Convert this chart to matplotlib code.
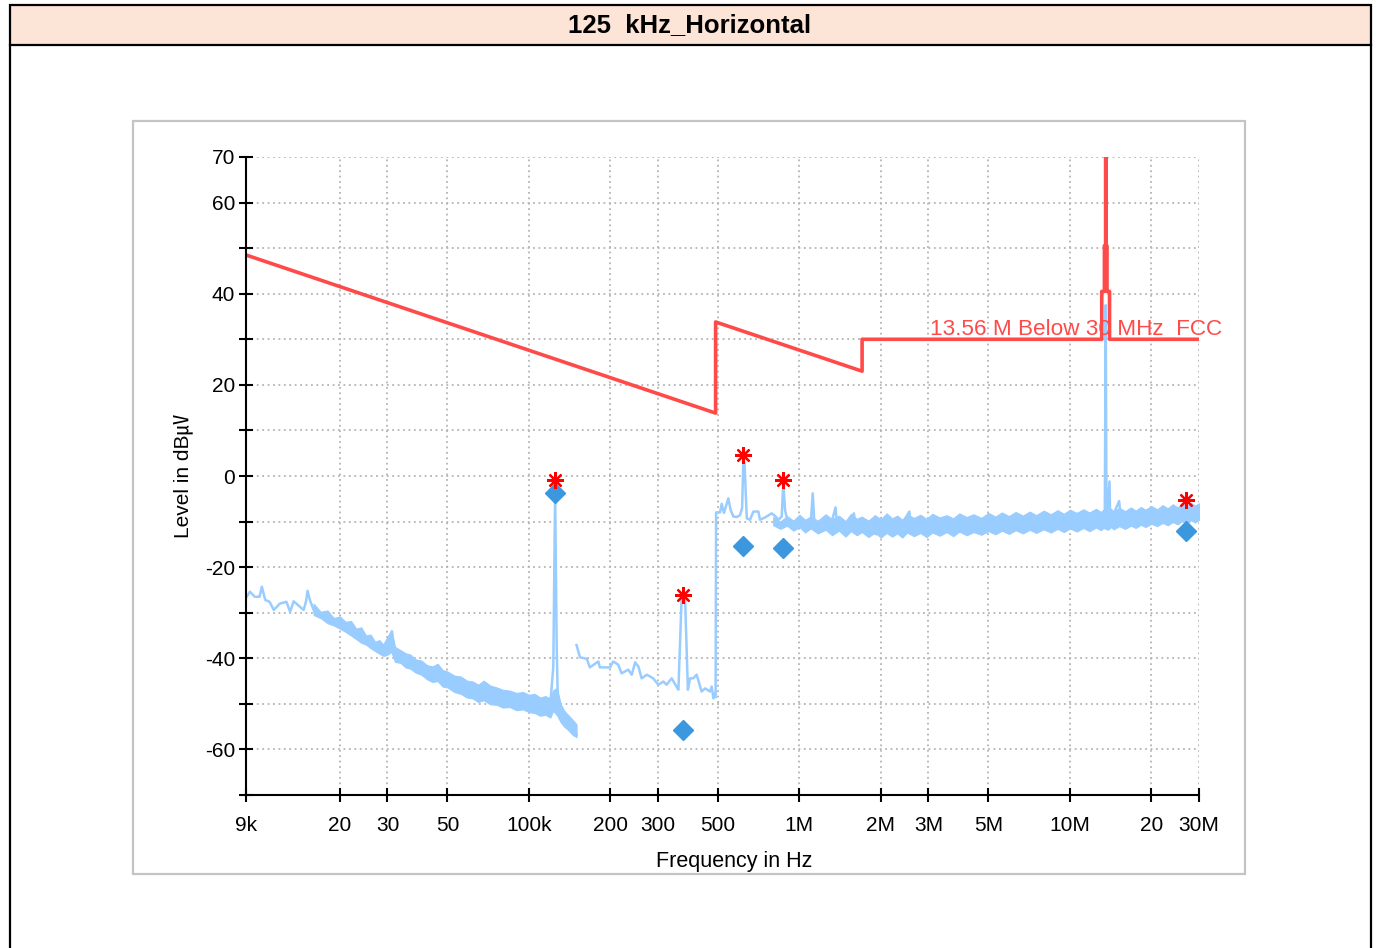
import matplotlib
matplotlib.use('Agg')
import matplotlib.pyplot as plt
from matplotlib.patches import Rectangle
from matplotlib.lines import Line2D
from matplotlib.transforms import Bbox, TransformedBbox

plt.rcParams['font.family'] = ['Liberation Sans', 'Noto Sans CJK KR', 'DejaVu Sans']

# ---------------- data ----------------
title = "125  kHz_Horizontal"
limit_name = "13.56 M Below 30 MHz_FCC"
y_label = "Level in dB㎶"
x_label = "Frequency in Hz"

x_tick_vals = [9e3, 20e3, 30e3, 50e3, 100e3, 200e3, 300e3, 500e3, 1e6, 2e6, 3e6, 5e6, 10e6, 20e6, 30e6]
x_tick_labels = ['9k', '20', '30', '50', '100k', '200', '300', '500', '1M', '2M', '3M', '5M', '10M', '20', '30M']
y_tick_vals = [-70, -60, -50, -40, -30, -20, -10, 0, 10, 20, 30, 40, 50, 60, 70]
y_tick_labels = ['', '-60', '', '-40', '', '-20', '', '0', '', '20', '', '40', '', '60', '70']

# limit line (FCC 15.209 / 15.225)
limit_f = [9e3, 490e3, 490e3, 1.705e6, 1.705e6, 13.11e6, 13.11e6, 13.41e6, 13.41e6, 13.553e6, 13.553e6,
           13.567e6, 13.567e6, 13.71e6, 13.71e6, 14.01e6, 14.01e6, 30e6]
limit_v = [48.5, 13.8, 33.8, 23.0, 30.0, 30.0, 40.5, 40.5, 50.5, 50.5, 84.0,
           84.0, 50.5, 50.5, 40.5, 40.5, 30.0, 30.0]

# measured trace, band 1 (9 kHz - 150 kHz)
seg1_f = [9.05e3, 9.31e3, 9.7e3, 10.1e3, 10.3e3, 10.6e3, 11.0e3, 11.4e3, 12.0e3, 12.7e3, 13.1e3, 13.5e3,
          14.0e3, 14.7e3, 15.0e3, 15.2e3, 15.5e3, 16.1e3, 17.0e3, 18.0e3, 19.9e3, 21.0e3, 22.6e3, 24.6e3,
          26.5e3, 28.8e3, 31.2e3, 31.8e3, 34.2e3, 37.3e3, 40.8e3, 43.7e3, 47.0e3, 49.8e3, 54.4e3, 59.3e3,
          64.6e3, 70.5e3, 76.9e3, 83.8e3, 93.9e3, 101e3, 110e3, 119.7e3, 123.1e3, 125e3, 126.7e3, 128e3,
          131e3, 139e3, 150e3]
seg1_v = [-26.5, -25.4, -26.5, -26.5, -24.3, -27.2, -27.6, -29.4, -28.0, -27.6, -29.8, -27.5,
          -28.3, -29.4, -27.5, -25.2, -27.2, -29.8, -30.9, -30.5, -32.0, -33.0, -34.1, -35.6,
          -37.1, -37.8, -34.1, -38.9, -40.4, -41.5, -42.5, -44.0, -42.5, -44.7, -45.8, -46.6,
          -47.7, -46.9, -48.4, -48.8, -49.5, -49.9, -50.2, -50.9, -41.8, -3.5, -37.4, -49.8,
          -52.8, -54.2, -56.8]
# noise envelope of band 1
band1_f = [16e3, 17e3, 18e3, 19e3, 20e3, 21e3, 22e3, 23e3, 24e3, 25e3, 26e3, 27e3, 28e3, 29e3, 30e3,
           31e3, 32e3, 33.5e3, 35e3, 36.5e3, 38e3, 40e3, 42e3, 44e3, 46e3, 48e3, 50e3, 53e3, 56e3, 59e3,
           62e3, 65e3, 68e3, 72e3, 76e3, 80e3, 85e3, 90e3, 95e3, 100e3, 105e3, 110e3, 115e3, 120e3,
           123e3, 127e3, 131e3, 135e3, 140e3, 145e3, 150e3]
band1_hi = [-28.0, -29.8, -29.5, -31.2, -30.8, -32.0, -31.8, -33.5, -33.2, -35.0, -34.8, -36.4, -36.0,
            -37.0, -35.5, -33.8, -37.5, -38.2, -38.9, -39.2, -40.2, -40.5, -41.5, -41.8, -41.2, -42.6,
            -42.9, -43.8, -44.0, -44.9, -45.1, -45.8, -44.9, -46.0, -46.4, -46.9, -47.1, -47.6, -47.4,
            -48.0, -47.8, -48.6, -48.3, -48.8, -47.0, -46.5, -50.0, -51.5, -52.5, -53.5, -54.5]
band1_lo = [-30.5, -31.2, -32.3, -32.8, -33.5, -34.2, -35.0, -35.8, -36.6, -37.0, -37.8, -38.4, -39.0,
            -39.5, -39.2, -38.6, -40.8, -41.0, -42.0, -42.3, -43.1, -43.6, -44.6, -45.2, -45.0, -46.2,
            -46.4, -47.4, -47.8, -48.6, -48.8, -49.6, -49.2, -50.1, -50.2, -50.8, -50.7, -51.4, -51.2,
            -51.8, -52.0, -52.6, -52.4, -53.0, -51.5, -52.5, -54.0, -55.0, -55.8, -56.8, -57.3]

# measured trace, band 2 (150 kHz - 490 kHz)
seg2_f = [150e3, 154.5e3, 163.6e3, 168e3, 180.6e3, 183e3, 199.5e3, 205e3, 214e3, 220e3, 233e3, 240e3,
          247e3, 254e3, 261e3, 273e3, 288e3, 301e3, 314e3, 323e3, 337e3, 357e3, 367e3, 372e3, 378e3,
          387e3, 394e3, 405e3, 417e3, 435e3, 448e3, 467e3, 474e3, 481e3, 488e3]
seg2_v = [-37.1, -39.8, -40.1, -42.0, -40.7, -42.0, -42.0, -40.7, -41.4, -43.3, -42.5, -43.6,
          -40.9, -41.8, -44.4, -43.6, -44.4, -45.8, -45.1, -45.8, -44.4, -46.9, -26.5, -25.7, -27.2,
          -46.9, -44.4, -44.4, -43.6, -47.3, -46.6, -47.3, -46.2, -48.8, -47.7]

# measured trace, band 3 (490 kHz - 30 MHz)
seg3_f = [490e3, 492e3, 509e3, 516e3, 526e3, 546e3, 557e3, 570e3, 587e3, 603e3, 614e3, 621e3, 627e3,
          639e3, 657e3, 676e3, 705e3, 715e3, 746e3, 790e3, 813e3, 836e3, 860e3, 872e3, 885e3, 902e3,
          937e3, 977e3, 1.02e6, 1.065e6, 1.10e6, 1.12e6, 1.136e6, 1.19e6, 1.24e6, 1.29e6, 1.36e6, 1.38e6,
          1.47e6, 1.54e6, 1.59e6, 1.62e6, 1.76e6, 1.92e6, 2.1e6, 2.29e6, 2.55e6, 2.59e6, 2.92e6, 3.29e6,
          3.7e6, 4.16e6, 4.86e6, 5.52e6, 6.2e6, 7.0e6, 7.9e6, 9.0e6, 10.1e6, 11.4e6, 12.9e6, 13.45e6,
          13.56e6, 13.65e6, 14.0e6, 14.1e6, 15.2e6, 15.5e6, 17.4e6, 19.8e6, 22.2e6, 25.2e6, 27.3e6, 30e6]
seg3_v = [-48.5, -8.0, -8.0, -6.1, -8.1, -4.9, -7.5, -8.9, -9.0, -8.6, -7.0, 4.0, 2.5,
          -9.3, -9.6, -7.8, -7.8, -9.6, -9.1, -8.2, -8.8, -9.6, -8.9, -1.5, -7.5, -9.6,
          -10.4, -10.7, -10.0, -11.1, -11.0, -3.8, -10.4, -11.5, -10.2, -12.0, -6.9, -11.5,
          -12.5, -10.5, -8.2, -12.0, -11.0, -12.8, -10.0, -12.5, -7.8, -12.0, -11.0, -12.5,
          -10.3, -12.2, -10.8, -12.0, -10.2, -11.8, -10.0, -11.5, -9.5, -11.0, -9.8, -10.5,
          37.5, -10.5, -1.2, -10.0, -5.5, -10.5, -9.0, -10.0, -8.0, -9.5, -7.5, -8.5]
# noise envelope of band 3
band3_f = [0.80e6, 0.85e6, 0.90e6, 0.95e6, 1.0e6, 1.05e6, 1.1e6, 1.17e6, 1.25e6, 1.32e6, 1.4e6, 1.48e6,
           1.55e6, 1.63e6, 1.7e6, 1.8e6, 1.9e6, 2.0e6, 2.1e6, 2.2e6, 2.3e6, 2.4e6, 2.5e6, 2.65e6, 2.8e6,
           2.95e6, 3.1e6, 3.3e6, 3.5e6, 3.7e6, 3.9e6, 4.15e6, 4.4e6, 4.7e6, 5.0e6, 5.3e6, 5.6e6, 5.95e6,
           6.3e6, 6.7e6, 7.1e6, 7.5e6, 8.0e6, 8.5e6, 9.0e6, 9.5e6, 10.0e6, 10.6e6, 11.2e6, 11.8e6, 12.5e6,
           13.0e6, 13.3e6, 13.8e6, 14.2e6, 14.5e6, 15.2e6, 16.0e6, 16.8e6, 17.5e6, 18.3e6, 19.0e6, 20.0e6,
           21.0e6, 22.0e6, 23.0e6, 24.0e6, 25.0e6, 26.0e6, 27.0e6, 28.0e6, 29.0e6, 30.0e6]
band3_hi = [-9.0, -10.0, -8.8, -9.8, -8.5, -9.6, -8.9, -9.8, -8.4, -9.5, -8.7, -9.9,
            -8.3, -9.4, -8.9, -9.8, -8.6, -9.5, -8.2, -9.3, -8.7, -9.6, -8.4, -9.2, -8.5,
            -9.4, -8.3, -9.1, -8.6, -9.3, -8.2, -9.0, -8.4, -9.2, -8.1, -8.9, -8.0, -8.8,
            -7.9, -8.7, -7.8, -8.6, -7.6, -8.4, -7.5, -8.3, -7.4, -8.1, -7.3, -8.0, -7.2,
            -7.9, -7.4, -7.8, -7.2, -7.9, -7.0, -7.7, -6.9, -7.6, -6.8, -7.4, -6.6,
            -7.3, -6.4, -7.1, -6.2, -6.9, -6.0, -6.7, -5.9, -6.5, -6.0]
band3_lo = [-10.8, -11.6, -10.9, -12.0, -11.2, -12.4, -11.5, -12.6, -11.8, -13.0, -12.0, -13.3,
            -12.1, -13.0, -12.3, -13.4, -12.4, -13.5, -12.5, -13.3, -12.6, -13.5, -12.4, -13.2, -12.5,
            -13.4, -12.4, -13.1, -12.3, -13.2, -12.2, -13.0, -12.3, -12.9, -12.1, -12.8, -12.0, -12.7,
            -11.9, -12.6, -11.8, -12.5, -11.7, -12.4, -11.6, -12.3, -11.5, -12.2, -11.4, -12.1, -11.3,
            -11.9, -11.4, -11.8, -11.2, -11.7, -11.0, -11.6, -10.9, -11.4, -10.7, -11.2, -10.5,
            -11.0, -10.3, -10.8, -10.1, -10.6, -9.9, -10.4, -9.7, -10.2, -9.6]

# peak (asterisk) and final (diamond) markers
peak_f = [125e3, 372e3, 621e3, 872e3, 26.9e6]
peak_v = [-0.9, -26.1, 4.6, -0.9, -5.3]
final_f = [125e3, 372e3, 621e3, 872e3, 26.9e6]
final_v = [-3.7, -55.7, -15.4, -15.8, -12.1]

# ---------------- figure ----------------
W, H = 1376, 948
fig = plt.figure(figsize=(W / 100, H / 100), dpi=100)


def fx(x):
    return x / W


def fy(y):
    return 1 - y / H


# outer border and title band
fig.add_artist(Rectangle((fx(10), fy(45)), fx(1371) - fx(10), fy(5) - fy(45),
                         transform=fig.transFigure, facecolor='#FCE4D6', edgecolor='black', lw=1.6))
fig.add_artist(Line2D([fx(10), fx(10)], [fy(45), fy(960)], transform=fig.transFigure, color='black', lw=1.6))
fig.add_artist(Line2D([fx(1371), fx(1371)], [fy(45), fy(960)], transform=fig.transFigure, color='black', lw=1.6))
fig.text(fx(690), fy(25), title, ha='center', va='center', fontsize=18.5, fontweight='bold')

# gray frame
frame = Rectangle((fx(133), fy(874)), fx(1245) - fx(133), fy(121) - fy(874),
                  transform=fig.transFigure, facecolor='none', edgecolor='#C4C4C4', lw=1.6)
fig.add_artist(frame)

ax = fig.add_axes([fx(246), fy(795), fx(1199) - fx(246), fy(157) - fy(795)])
ax.set_xscale('log')
ax.set_xlim(9e3, 30e6)
ax.set_ylim(-70, 70)
ax.set_xticks(x_tick_vals)
ax.set_xticklabels(x_tick_labels)
ax.xaxis.set_minor_locator(matplotlib.ticker.NullLocator())
ax.set_yticks(y_tick_vals)
ax.set_yticklabels(y_tick_labels)
for s in ['top', 'right']:
    ax.spines[s].set_visible(False)
for s in ['left', 'bottom']:
    ax.spines[s].set_linewidth(1.5)
    ax.spines[s].set_zorder(5)
ax.tick_params(axis='both', which='major', direction='inout', length=10, width=1.5,
               labelsize=15, colors='black')
ax.tick_params(axis='y', pad=3)
ax.tick_params(axis='x', pad=10)
ax.grid(True, which='major', color='#B4B4B4', linestyle=(0, (1, 2)), lw=1.3)
ax.set_axisbelow(True)

trace_color = '#99CCFF'
ax.fill_between(band1_f, band1_lo, band1_hi, color=trace_color, lw=0.8, zorder=2)
ax.fill_between(band3_f, band3_lo, band3_hi, color=trace_color, lw=0.8, zorder=2)
for f, v in [(seg1_f, seg1_v), (seg2_f, seg2_v), (seg3_f, seg3_v)]:
    ax.plot(f, v, color=trace_color, lw=1.8, zorder=2)

ax.plot(limit_f, limit_v, color='#FF4A4A', lw=2.6, zorder=3)
ax.text(3.04e6, 31.0, limit_name, color='#FF4A4A', fontsize=16.2, ha='left', va='baseline',
        clip_on=False, zorder=3)

ax.plot(final_f, final_v, linestyle='none', marker='D', ms=10.5, mfc='#3B97DE', mec='#3B97DE', zorder=4)
ax.plot(peak_f, peak_v, linestyle='none', marker=(8, 2, 0), ms=12, mec='#FF0000', mew=1.6, zorder=4)

fig.text(fx(183), fy(476), y_label, rotation=90, ha='center', va='center', fontsize=15)
xl = fig.text(fx(734.5), fy(861), x_label, ha='center', va='center', fontsize=15.5)
xl.set_clip_box(TransformedBbox(Bbox.from_extents(fx(133), fy(873), fx(1245), fy(121)), fig.transFigure))
xl.set_clip_on(True)

fig.savefig('out.png', dpi=100)
